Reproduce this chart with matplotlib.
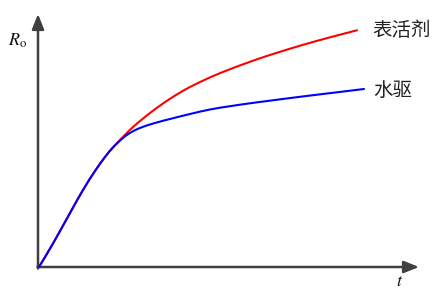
import numpy as np
import matplotlib
matplotlib.use("Agg")
import matplotlib.pyplot as plt
from matplotlib.path import Path
from matplotlib.patches import PathPatch

plt.rcParams['font.family'] = ['Noto Sans CJK SC', 'DejaVu Sans']
plt.rcParams['mathtext.fontset'] = 'stix'

# shared early part (t, R)
common_t = [0, 14, 31, 44, 56, 66, 73]
common_r = [0, 23.5, 54, 77, 96, 110, 118.5]

red_t = [79, 86, 94, 103, 111, 121, 131, 141, 151, 171, 191, 211, 230, 261, 290, 318]
red_r = [125, 132.2, 140, 147.6, 154, 161.4, 168.2, 174.4, 180, 189.6, 197.8, 205.2, 211.7, 221.3, 229.4, 236.7]

blue_t = [79, 86, 94, 103, 111, 121, 131, 151, 171, 191, 211, 230, 261, 293, 325]
blue_r = [124.5, 130.6, 135.8, 139.8, 142.5, 145.4, 148, 153, 157.5, 160.8, 163.7, 166.2, 170.2, 174.1, 178]

labels = ["表活剂", "水驱"]


def smooth_path(xs, ys):
    """Catmull-Rom spline through the given points, as cubic Bezier segments."""
    p = np.column_stack([xs, ys]).astype(float)
    verts = [p[0]]
    codes = [Path.MOVETO]
    n = len(p)
    for i in range(n - 1):
        p0 = p[i - 1] if i > 0 else p[i]
        p1 = p[i]
        p2 = p[i + 1]
        p3 = p[i + 2] if i + 2 < n else p[i + 1]
        c1 = p1 + (p2 - p0) / 6.0
        c2 = p2 - (p3 - p1) / 6.0
        verts += [c1, c2, p2]
        codes += [Path.CURVE4] * 3
    return Path(verts, codes)


fig = plt.figure(figsize=(4.39, 2.93), dpi=100)
ax = fig.add_axes([0, 0, 1, 1])
ax.set_xlim(-39, 400)
ax.set_ylim(-26, 267)
ax.axis('off')

axc = '#404040'
ax.annotate('', xy=(380, 0), xytext=(-1.5, 0),
            arrowprops=dict(arrowstyle='-|>,head_length=0.9,head_width=0.36',
                            mutation_scale=10, lw=1.8, color=axc,
                            shrinkA=0, shrinkB=0))
ax.annotate('', xy=(-1, 253), xytext=(-1, -1.5),
            arrowprops=dict(arrowstyle='-|>,head_length=0.9,head_width=0.36',
                            mutation_scale=10, lw=1.8, color=axc,
                            shrinkA=0, shrinkB=0))

ax.add_patch(PathPatch(smooth_path(common_t + red_t, common_r + red_r),
                       facecolor='none', edgecolor='#FF0000', lw=1.5,
                       capstyle='round', joinstyle='round', zorder=3))
ax.add_patch(PathPatch(smooth_path(common_t + blue_t, common_r + blue_r),
                       facecolor='none', edgecolor='#0000FF', lw=1.5,
                       capstyle='round', joinstyle='round', zorder=4))

ax.text(red_t[-1] + 15, red_r[-1], labels[0], fontsize=14, va='center', ha='left', color='#222222')
ax.text(blue_t[-1] + 9, blue_r[-1] - 1.5, labels[1], fontsize=14, va='center', ha='left', color='#222222')

ax.text(-31, 226, r'$R_\mathrm{o}$', fontsize=13, va='center', ha='left', color='#111111')
ax.text(357, -14, r'$t$', fontsize=13, va='center', ha='left', color='#111111')

fig.savefig('out.png', dpi=100)
